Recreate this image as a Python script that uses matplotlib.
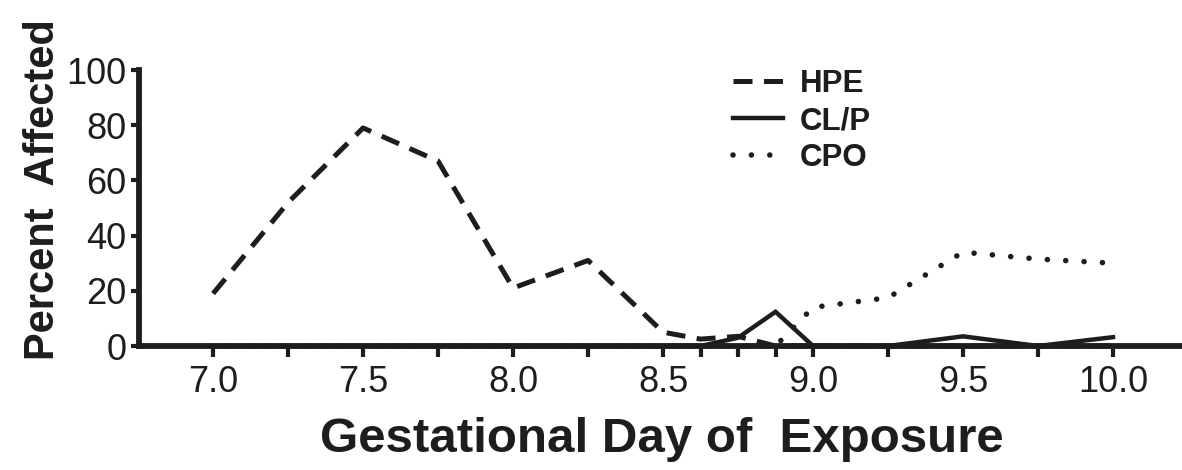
import numpy as np
import matplotlib
matplotlib.use("Agg")
import matplotlib.pyplot as plt

plt.rcParams['font.family'] = ['Liberation Sans', 'DejaVu Sans']

# gestational days sampled (also the tick positions)
days = [7.0, 7.25, 7.5, 7.75, 8.0, 8.25, 8.5, 8.625, 8.75, 8.875,
        9.0, 9.25, 9.5, 9.75, 10.0]
hpe = [19, 52, 79, 67, 21, 31, 5, 2.5, 3.5, 0, 0, 0, 0, 0, 0]
clp = [0, 0, 0, 0, 0, 0, 0, 0, 3, 12.4, 0, 0, 3.5, 0, 3.2]
cpo = [0, 0, 0, 0, 0, 0, 0, 0, 0, 0, 14, 17.5, 34, 31.5, 30]
tick_labels = ['7.0', '', '7.5', '', '8.0', '', '8.5', '', '', '',
               '9.0', '', '9.5', '', '10.0']

INK = '#1f1c1d'
W, H = 1182, 470
fig = plt.figure(figsize=(W / 100, H / 100), dpi=100)
ax = fig.add_axes([139 / W, (H - 346) / H, 1 - 139 / W, (346 - 70) / H])

# lines sit under the spines so the zero stretches disappear into the axis
ax.plot(days, hpe, color=INK, lw=3.6, dashes=(3.8, 2.3),
        clip_on=False, label='HPE', zorder=2)
ax.plot(days, clp, color=INK, lw=3.2, solid_joinstyle='miter',
        clip_on=False, label='CL/P', zorder=2)
ax.plot(days, cpo, color=INK, lw=4.0, dashes=(0.01, 3.3),
        dash_capstyle='round', clip_on=False, label='CPO', zorder=2)

ax.set_xlim(6.753, 10.23)
ax.set_ylim(0, 100)
ax.set_xticks(days)
ax.set_xticklabels(tick_labels)
ax.set_yticks([0, 20, 40, 60, 80, 100])

for s in ['top', 'right']:
    ax.spines[s].set_visible(False)
for s in ['left', 'bottom']:
    ax.spines[s].set_linewidth(4.2)
    ax.spines[s].set_color(INK)
    ax.spines[s].set_zorder(3)

ax.tick_params(axis='both', direction='out', width=3, color=INK,
               labelsize=26, labelcolor=INK)
ax.tick_params(axis='x', length=8, pad=6)
ax.tick_params(axis='y', length=6, pad=3)

fig.text(43 / W, 1 - 190 / H, 'Percent  Affected', rotation=90,
         ha='center', va='center', fontsize=30, fontweight='bold',
         color=INK)
fig.text(662 / W, 1 - 440 / H, 'Gestational Day of  Exposure',
         ha='center', va='center', fontsize=35.5, fontweight='bold',
         color=INK)

leg = ax.legend(loc='upper left', bbox_to_anchor=(733 / W, 1 - 69 / H),
                bbox_transform=fig.transFigure, frameon=False,
                borderpad=0, borderaxespad=0,
                handlelength=1.6, handletextpad=0.55, labelspacing=0.23,
                prop={'size': 22.5, 'weight': 'bold'})
for t in leg.get_texts():
    t.set_color(INK)

fig.savefig('out.png', dpi=100)
